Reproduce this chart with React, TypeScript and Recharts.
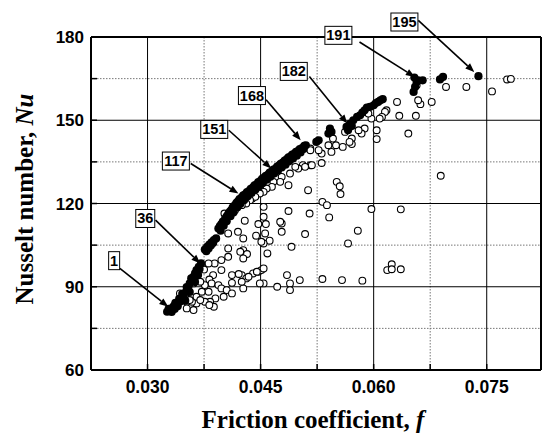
import { CartesianGrid, ReferenceDot, ReferenceLine, Scatter, ScatterChart, XAxis, YAxis } from 'recharts'

const SANS = '"Liberation Sans", Arial, Helvetica, sans-serif'
const SERIF = '"Liberation Serif", "Times New Roman", Times, serif'

const xDomain: [number, number] = [0.0225, 0.0822]
const yDomain: [number, number] = [60, 180]

const xMajor = [0.03, 0.045, 0.06, 0.075]
const xMinor = [0.0375, 0.0525, 0.0675]
const xTicks = [0.03, 0.0375, 0.045, 0.0525, 0.06, 0.0675, 0.075]
const xTickLabels = ['0.030', '0.045', '0.060', '0.075']

const yMajor = [60, 90, 120, 150, 180]
const yGridMajor = [90, 120, 150]
const yMinor = [75, 105, 135, 165]
const yTicks = [60, 75, 90, 105, 120, 135, 150, 165, 180]

// open circles: [friction coefficient, Nusselt number]
const openPoints: [number, number][] = [
  [0.0777, 164.7], [0.0782, 164.9], [0.0757, 160.4], [0.0723, 162.0], [0.0696, 162.0], [0.0689, 130.0],
  [0.0677, 156.6], [0.0662, 155.8], [0.0659, 157.2], [0.0657, 162.6], [0.0656, 151.6], [0.0646, 145.2],
  [0.0634, 151.6], [0.0631, 156.6], [0.0617, 153.6], [0.0615, 153.0], [0.0611, 151.2], [0.0608, 150.6],
  [0.0604, 146.4], [0.0604, 143.2], [0.0597, 150.6], [0.0593, 152.4], [0.0588, 147.0], [0.0584, 145.2],
  [0.0571, 143.4], [0.0571, 141.4], [0.0559, 140.4], [0.0550, 141.0], [0.0544, 138.6], [0.0540, 141.0],
  [0.0546, 143.4], [0.0531, 138.0], [0.0531, 134.6], [0.0516, 139.8], [0.0516, 133.8], [0.0506, 133.8],
  [0.0527, 139.2], [0.0562, 145.8], [0.0580, 146.4], [0.0568, 142.2],
  [0.0513, 124.8], [0.0551, 127.8], [0.0555, 126.2], [0.0556, 123.4], [0.0532, 120.6], [0.0538, 119.4],
  [0.0515, 116.4], [0.0541, 115.0], [0.0509, 109.0], [0.0579, 110.2], [0.0566, 105.6], [0.0597, 118.0],
  [0.0636, 117.9], [0.0624, 98.1], [0.0618, 96.0], [0.0624, 96.3], [0.0636, 96.3], [0.0502, 92.4],
  [0.0532, 92.8], [0.0558, 92.4], [0.0585, 92.2], [0.0489, 91.2], [0.0489, 88.8], [0.0485, 94.2],
  [0.0472, 90.0], [0.0454, 91.2],
  [0.0487, 117.3], [0.0478, 112.8], [0.0478, 109.8], [0.0491, 104.4], [0.0476, 113.4], [0.0454, 118.8],
  [0.0454, 115.2], [0.0429, 113.8], [0.0447, 112.6], [0.0457, 112.6], [0.0456, 109.2], [0.0462, 106.6],
  [0.0454, 105.6], [0.0459, 102.0], [0.0451, 106.2], [0.0444, 108.4], [0.0427, 107.4], [0.0420, 109.8],
  [0.0427, 103.2], [0.0432, 101.8], [0.0427, 100.2], [0.0423, 102.6], [0.0407, 103.8], [0.0407, 100.8],
  [0.0407, 109.2], [0.0402, 116.4], [0.0439, 121.8],
  [0.0425, 94.2], [0.0431, 93.0], [0.0440, 94.8], [0.0447, 95.4], [0.0451, 96.0], [0.0454, 96.6],
  [0.0427, 89.4], [0.0425, 91.8], [0.0449, 91.2],
  [0.0516, 139.2], [0.0518, 133.8], [0.0509, 133.2], [0.0500, 132.6], [0.0496, 133.2], [0.0489, 130.8],
  [0.0487, 126.6], [0.0478, 129.6], [0.0476, 127.8], [0.0467, 127.8], [0.0465, 126.0], [0.0458, 125.4],
  [0.0454, 124.2], [0.0449, 123.6], [0.0443, 122.4], [0.0436, 121.2], [0.0431, 120.0], [0.0425, 119.4],
  [0.0416, 117.6], [0.0409, 116.4],
  [0.0389, 98.4], [0.0381, 98.4], [0.0375, 96.2], [0.0398, 99.6], [0.0387, 94.2], [0.0398, 96.0],
  [0.0412, 94.2], [0.0421, 94.6], [0.0434, 93.6], [0.0445, 95.4], [0.0412, 91.4], [0.0382, 92.6],
  [0.0376, 90.6], [0.0385, 91.2], [0.0394, 90.6], [0.0398, 89.4], [0.0405, 88.8], [0.0412, 87.6],
  [0.0401, 86.4], [0.0390, 85.8], [0.0383, 84.6], [0.0376, 84.6], [0.0365, 84.0], [0.0359, 84.6],
  [0.0352, 84.6], [0.0372, 88.2], [0.0381, 88.2], [0.0361, 91.2], [0.0370, 91.8], [0.0343, 87.6],
  [0.0350, 87.0], [0.0356, 85.2], [0.0352, 82.2], [0.0361, 81.6], [0.0336, 83.4], [0.0332, 81.6],
  [0.0365, 86.4], [0.0370, 85.2], [0.0388, 82.8], [0.0382, 83.4],
]

// filled circles: [friction coefficient, Nusselt number]
const filledPoints: [number, number][] = [
  [0.0326, 81.0], [0.0328, 82.0], [0.0330, 81.6], [0.0332, 80.9], [0.0334, 82.8], [0.0336, 82.0],
  [0.0337, 84.2], [0.0339, 83.8], [0.0340, 83.0], [0.0342, 85.6], [0.0343, 84.6], [0.0345, 85.8],
  [0.0346, 87.4], [0.0348, 87.0], [0.0350, 85.0], [0.0351, 88.2], [0.0352, 89.9], [0.0354, 89.8],
  [0.0356, 88.1], [0.0356, 91.2], [0.0358, 93.0], [0.0359, 92.4], [0.0361, 93.6], [0.0363, 91.7],
  [0.0363, 94.8], [0.0365, 96.0], [0.0367, 94.2], [0.0368, 97.2], [0.0371, 98.4], [0.0369, 96.4],
  [0.0376, 103.4], [0.0379, 104.4], [0.0382, 105.2], [0.0385, 106.0], [0.0388, 106.8], [0.0391, 107.4],
  [0.0378, 102.8], [0.0381, 103.8], [0.0384, 104.9], [0.0387, 105.8],
  [0.0394, 111.0], [0.0398, 112.6], [0.0403, 114.6], [0.0407, 116.2], [0.0411, 117.6], [0.0416, 119.4],
  [0.0420, 120.8], [0.0425, 122.2], [0.0430, 123.4], [0.0435, 124.6], [0.0440, 125.8], [0.0445, 127.0],
  [0.0450, 128.2], [0.0455, 129.4], [0.0460, 130.4], [0.0465, 131.6], [0.0470, 132.6], [0.0475, 133.8],
  [0.0480, 134.8], [0.0485, 136.0], [0.0490, 137.0], [0.0495, 138.0], [0.0500, 139.0], [0.0505, 140.0],
  [0.0510, 141.0],
  [0.0397, 110.2], [0.0401, 112.0], [0.0405, 113.6], [0.0410, 115.4], [0.0414, 116.8], [0.0419, 118.6],
  [0.0423, 119.8], [0.0428, 121.2], [0.0433, 122.6], [0.0438, 123.8], [0.0443, 125.0], [0.0448, 126.2],
  [0.0453, 127.4], [0.0458, 128.6], [0.0463, 129.6], [0.0468, 130.8], [0.0473, 131.8], [0.0478, 133.0],
  [0.0483, 134.0], [0.0488, 135.2], [0.0493, 136.2], [0.0498, 137.2], [0.0503, 138.4], [0.0507, 139.6],
  [0.0396, 111.9], [0.0400, 113.5], [0.0405, 115.4], [0.0409, 117.0], [0.0413, 118.6], [0.0418, 120.2],
  [0.0422, 121.6], [0.0427, 122.9], [0.0432, 124.1], [0.0437, 125.3], [0.0442, 126.5], [0.0447, 127.7],
  [0.0452, 128.9], [0.0457, 130.0], [0.0462, 131.1], [0.0467, 132.2], [0.0472, 133.3], [0.0477, 134.4],
  [0.0482, 135.5], [0.0487, 136.6], [0.0492, 137.6], [0.0497, 138.6], [0.0502, 139.6], [0.0508, 140.8],
  [0.0524, 142.2], [0.0527, 142.8], [0.0540, 145.2], [0.0542, 147.0], [0.0544, 145.8],
  [0.0564, 147.6], [0.0566, 146.4], [0.0569, 148.8], [0.0571, 147.9], [0.0573, 150.0], [0.0578, 151.2],
  [0.0582, 151.8], [0.0585, 152.8], [0.0588, 153.6], [0.0591, 154.6], [0.0595, 154.8], [0.0600, 155.4],
  [0.0603, 156.2], [0.0606, 156.6], [0.0609, 157.2], [0.0612, 157.6],
  [0.0653, 160.2], [0.0655, 162.0], [0.0657, 163.8], [0.0654, 165.4], [0.0659, 164.4], [0.0665, 164.4],
  [0.0688, 164.7], [0.0692, 165.6], [0.0739, 165.9],
]

// case labels with arrows, all in data units
const annoText = ['1', '36', '117', '151', '168', '182', '191', '195']
const annoBox: [number, number][] = [
  [0.02557, 99.4], [0.0297, 114.6], [0.03376, 135.3], [0.03885, 146.7],
  [0.04385, 158.9], [0.0494, 167.6], [0.05532, 180.6], [0.06408, 185.4],
]
const arrowFrom: [number, number][] = [
  [0.02633, 96.6], [0.03106, 114.0], [0.03573, 134.4], [0.04078, 146.4],
  [0.04573, 157.4], [0.05147, 165.8], [0.05812, 178.2], [0.06592, 186.0],
]
const arrowTo: [number, number][] = [
  [0.03275, 82.8], [0.0370, 98.4], [0.04206, 123.6], [0.04642, 132.6],
  [0.05032, 142.8], [0.05651, 148.8], [0.06546, 165.6], [0.07335, 167.4],
]

const openData = openPoints.map(([f, nu]) => ({ f, nu }))
const filledData = filledPoints.map(([f, nu]) => ({ f, nu }))

function OpenDot(props: any) {
  return <circle cx={props.cx} cy={props.cy} r={3.4} fill="#fff" stroke="#000" strokeWidth={1.1} />
}

function FilledDot(props: any) {
  return <circle cx={props.cx} cy={props.cy} r={4.1} fill="#000" />
}

function BottomTick(props: any) {
  const { x, y, payload } = props
  const axisY = y - 10
  const i = xMajor.indexOf(payload.value)
  return (
    <g>
      <line x1={x} x2={x} y1={axisY} y2={axisY - 6} stroke="#000" strokeWidth={1.5} />
      {i >= 0 && (
        <text x={x} y={axisY + 23} textAnchor="middle" fontFamily={SANS} fontWeight="bold" fontSize={17.5} fill="#000">
          {xTickLabels[i]}
        </text>
      )}
    </g>
  )
}

function LeftTick(props: any) {
  const { x, y, payload } = props
  const axisX = x + 6
  const major = yMajor.includes(payload.value)
  return (
    <g>
      <line x1={axisX} x2={axisX + 6} y1={y} y2={y} stroke="#000" strokeWidth={1.5} />
      {major && (
        <text x={axisX - 7} y={y + 6} textAnchor="end" fontFamily={SANS} fontWeight="bold" fontSize={17} fill="#000">
          {payload.value}
        </text>
      )}
    </g>
  )
}

function XTitle(props: any) {
  const vb = props.viewBox ?? { x: 91, y: 370, width: 450, height: 66 }
  return (
    <text x={vb.x + vb.width / 2 - 3} y={vb.y + 58} textAnchor="middle" fontFamily={SERIF} fontWeight="bold" fontSize={25} fill="#000">
      Friction coefficient,{' '}
      <tspan fontStyle="italic">f</tspan>
    </text>
  )
}

function YTitle() {
  return (
    <text transform="translate(33, 199) rotate(-90)" textAnchor="middle" fontFamily={SERIF} fontWeight="bold" fontSize={25} fill="#000">
      Nusselt number,{' '}
      <tspan fontStyle="italic">Nu</tspan>
    </text>
  )
}

function ArrowShape(props: any) {
  const { x1, y1, x2, y2 } = props
  const dx = x2 - x1
  const dy = y2 - y1
  const len = Math.hypot(dx, dy) || 1
  const ux = dx / len
  const uy = dy / len
  const head = 9
  const half = 3.5
  const bx = x2 - ux * head
  const by = y2 - uy * head
  return (
    <g>
      <line x1={x1} y1={y1} x2={bx} y2={by} stroke="#000" strokeWidth={1.6} />
      <polygon
        points={`${x2},${y2} ${bx - uy * half},${by + ux * half} ${bx + uy * half},${by - ux * half}`}
        fill="#000"
      />
    </g>
  )
}

function boxShape(text: string) {
  return (props: any) => {
    const { cx, cy } = props
    const w = text.length * 8 + 3
    const h = 18
    return (
      <g>
        <rect x={cx - w / 2} y={cy - h / 2} width={w} height={h} fill="#fff" stroke="#000" strokeWidth={1} />
        <text x={cx} y={cy + 5} textAnchor="middle" fontFamily={SANS} fontWeight="bold" fontSize={14.5} fill="#000">
          {text}
        </text>
      </g>
    )
  }
}

export default function App() {
  return (
    <div style={{ position: 'absolute', left: 0, top: 0, background: '#fff' }}>
      <ScatterChart width={542} height={436} margin={{ top: 37, right: 1, bottom: 0, left: 0 }}>
        <CartesianGrid verticalValues={xMinor} horizontalValues={yMinor} stroke="#777" strokeDasharray="1.5 1.5" fill="none" />
        <CartesianGrid verticalValues={xMajor} horizontalValues={yGridMajor} stroke="#000" strokeWidth={1} fill="none" />
        <XAxis
          dataKey="f"
          type="number"
          domain={xDomain}
          allowDataOverflow
          ticks={xTicks}
          interval={0}
          height={66}
          tickLine={false}
          tickSize={0}
          tickMargin={10}
          tick={BottomTick}
          axisLine={{ stroke: '#000', strokeWidth: 2 }}
          label={{ content: XTitle }}
        />
        <XAxis
          xAxisId="top"
          orientation="top"
          type="number"
          domain={xDomain}
          allowDataOverflow
          ticks={xTicks}
          interval={0}
          mirror
          tick={false}
          tickSize={6}
          tickLine={{ stroke: '#000', strokeWidth: 1.5 }}
          axisLine={{ stroke: '#000', strokeWidth: 2 }}
        />
        <YAxis
          dataKey="nu"
          type="number"
          domain={yDomain}
          allowDataOverflow
          ticks={yTicks}
          interval={0}
          width={91}
          tickLine={false}
          tickSize={0}
          tickMargin={6}
          tick={LeftTick}
          axisLine={{ stroke: '#000', strokeWidth: 2 }}
          label={{ content: YTitle }}
        />
        <YAxis
          yAxisId="right"
          orientation="right"
          type="number"
          domain={yDomain}
          allowDataOverflow
          ticks={yTicks}
          interval={0}
          mirror
          tick={false}
          tickSize={6}
          tickLine={{ stroke: '#000', strokeWidth: 1.5 }}
          axisLine={{ stroke: '#000', strokeWidth: 2 }}
        />
        <Scatter data={openData} shape={OpenDot} isAnimationActive={false} />
        <Scatter data={filledData} shape={FilledDot} isAnimationActive={false} />
        {annoText.map((t, i) => (
          <ReferenceLine
            key={`arrow-${t}`}
            segment={[
              { x: arrowFrom[i][0], y: arrowFrom[i][1] },
              { x: arrowTo[i][0], y: arrowTo[i][1] },
            ]}
            ifOverflow="visible"
            shape={ArrowShape}
          />
        ))}
        {annoText.map((t, i) => (
          <ReferenceDot key={`box-${t}`} x={annoBox[i][0]} y={annoBox[i][1]} r={1} ifOverflow="visible" shape={boxShape(t)} />
        ))}
      </ScatterChart>
    </div>
  )
}
